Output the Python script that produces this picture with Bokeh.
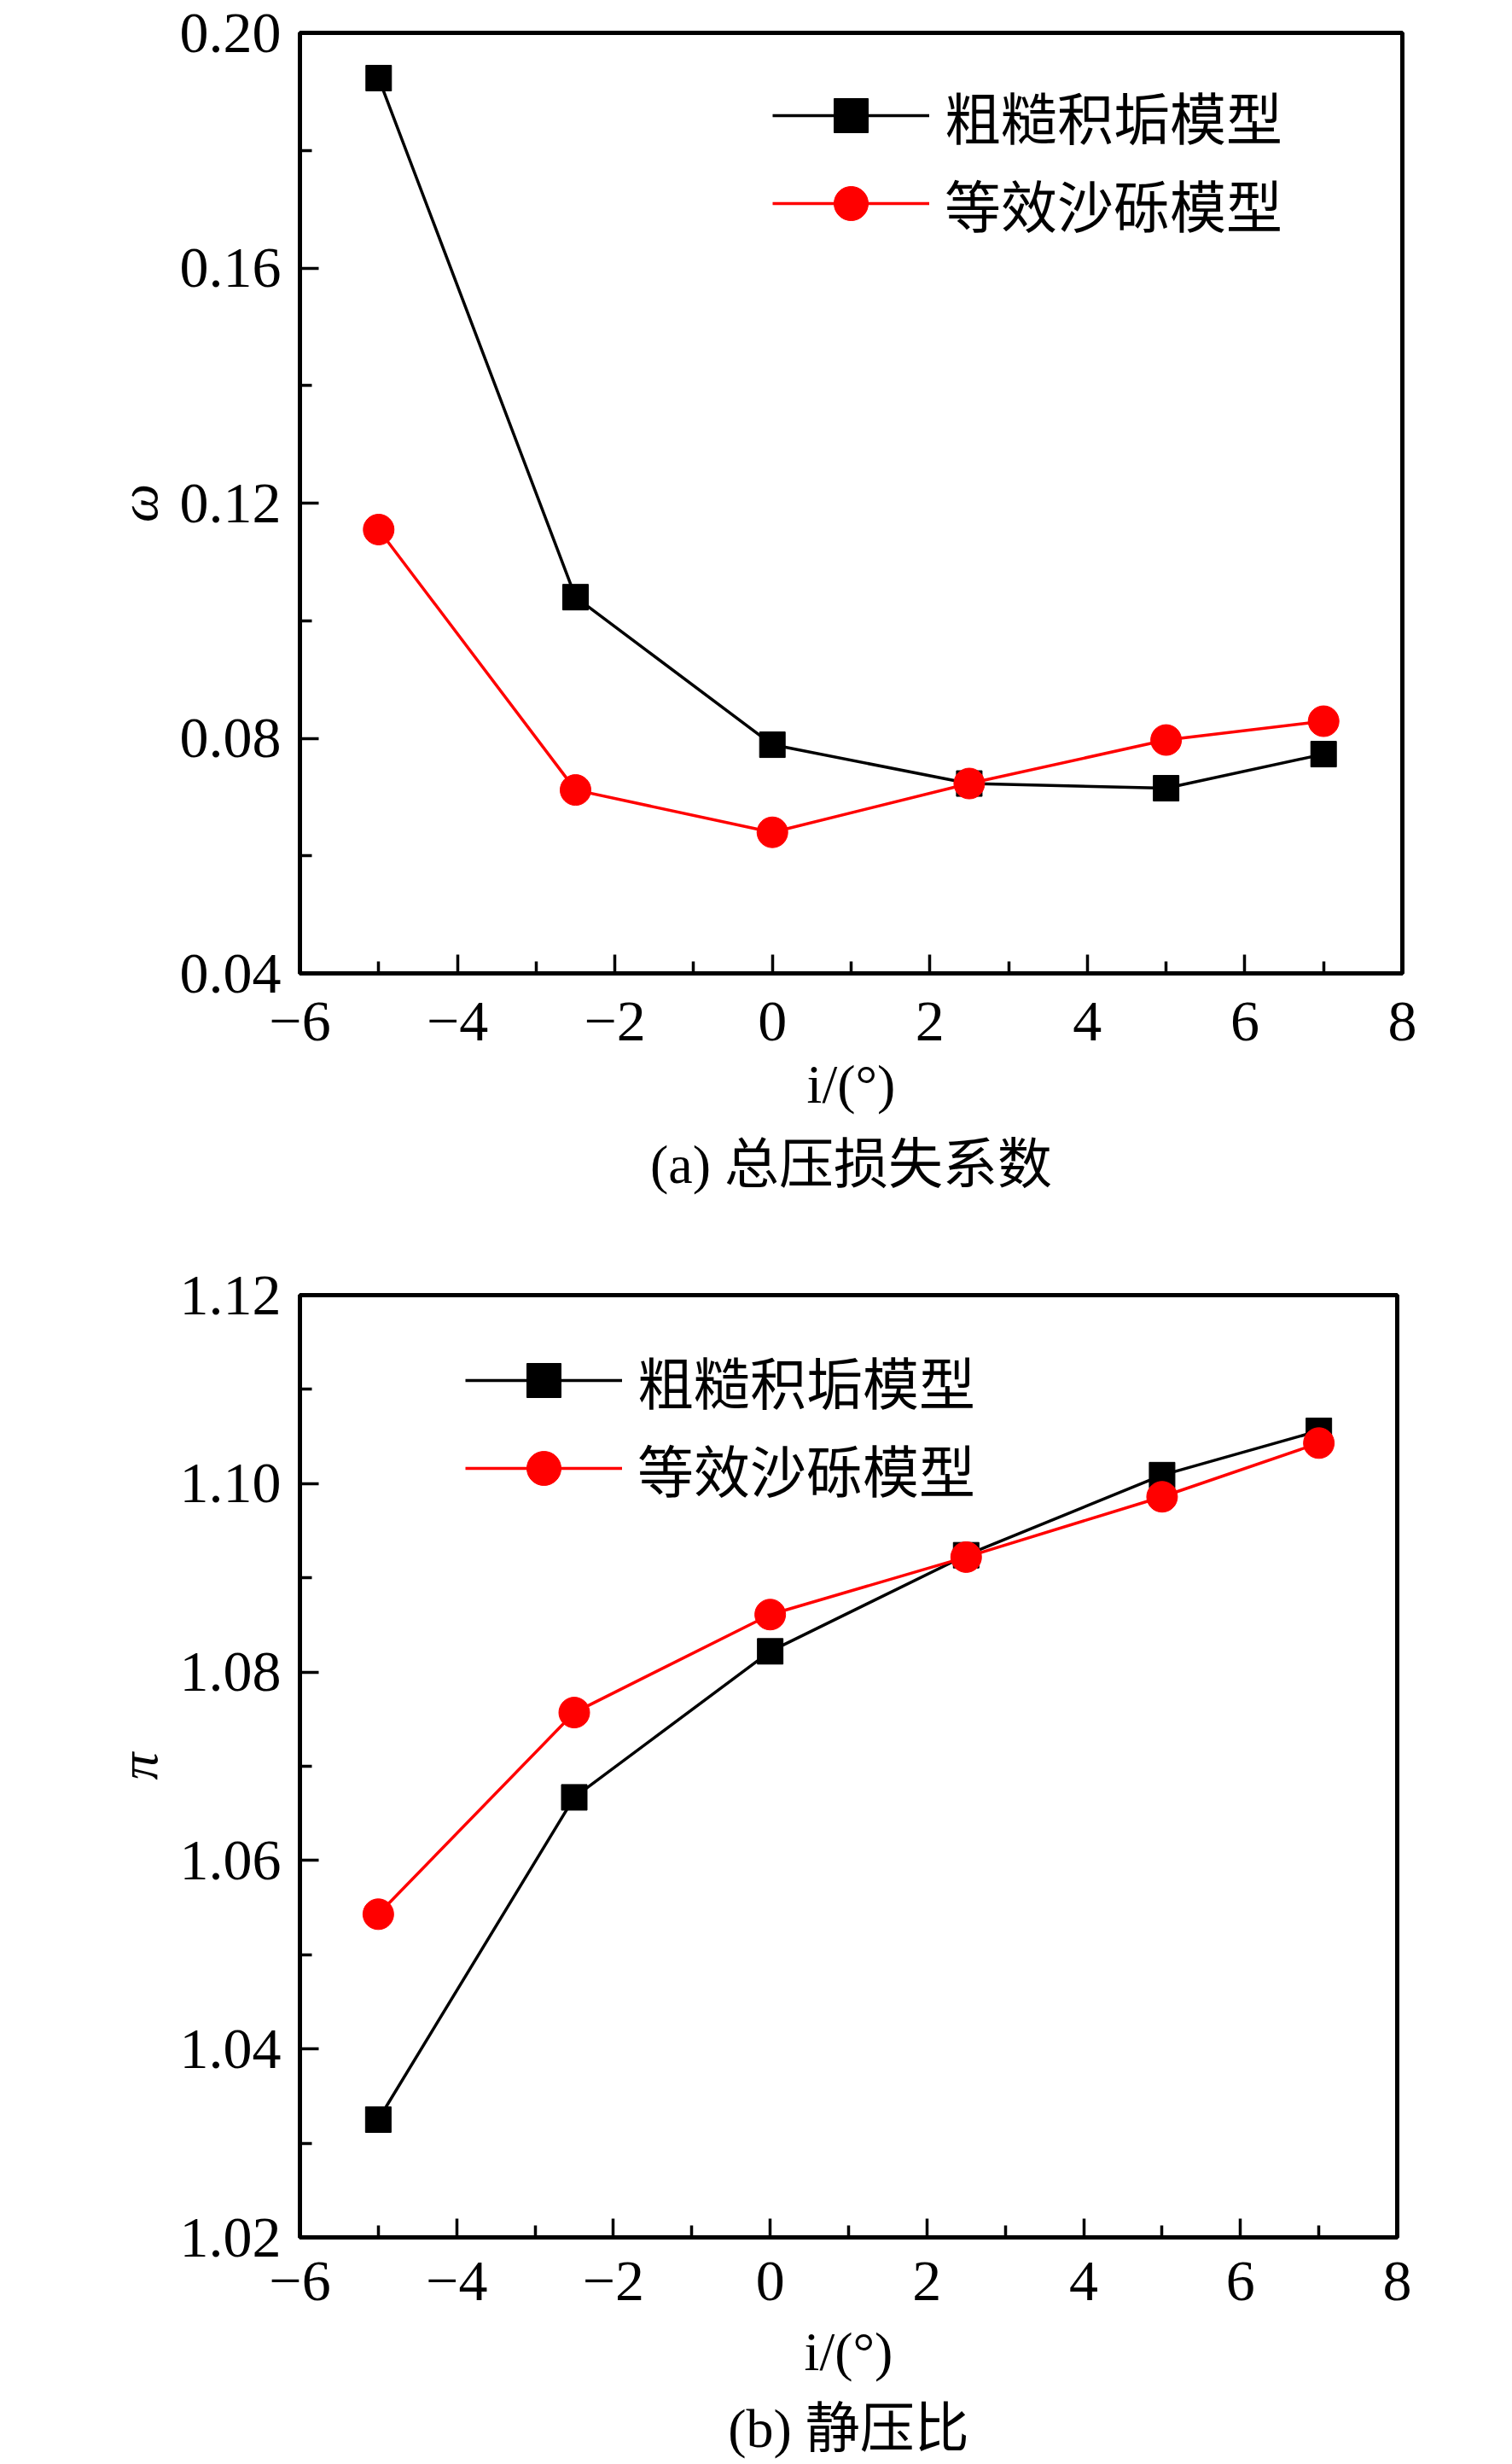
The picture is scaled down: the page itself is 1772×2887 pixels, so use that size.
from bokeh.plotting import figure
from bokeh.layouts import column
from bokeh.models import FixedTicker, Legend, LegendItem, Title, Range1d, NumeralTickFormatter
from bokeh.embed import file_html
from bokeh.resources import INLINE

# ---------------- data ----------------
incidence = [-5, -2.5, 0, 2.5, 5, 7]
omega_rough = [0.1923, 0.1040, 0.0789, 0.0723, 0.0715, 0.0773]
omega_sand = [0.1155, 0.0712, 0.0640, 0.0723, 0.0797, 0.0829]
pi_rough = [1.0325, 1.0667, 1.0822, 1.0924, 1.1009, 1.1056]
pi_sand = [1.0543, 1.0757, 1.0861, 1.0922, 1.0986, 1.1043]
series_names = ["粗糙积垢模型", "等效沙砾模型"]
x_ticks = [-6, -4, -2, 0, 2, 4, 6, 8]
x_tick_labels = ["−6", "−4", "−2", "0", "2", "4", "6", "8"]
x_minor = [-5, -3, -1, 1, 3, 5, 7]
omega_ticks = [0.04, 0.08, 0.12, 0.16, 0.20]
omega_minor = [0.06, 0.10, 0.14, 0.18]
pi_ticks = [1.02, 1.04, 1.06, 1.08, 1.10, 1.12]
pi_minor = [1.03, 1.05, 1.07, 1.09, 1.11]
captions = ["(a) 总压损失系数", "(b) 静压比"]
y_labels = ["ω", "π"]
x_label = "i/(°)"

SERIF = "Liberation Serif, Noto Sans CJK SC"
CJK = "Noto Sans CJK SC"


def make_panel(y_rough, y_sand, yr, yticks, yminor, ylabel, caption,
               fw, fh, b_top, b_bottom, b_right, leg_xy,
               tick_standoff, xlabel_standoff, cap_standoff):
    p = figure(frame_width=fw, frame_height=fh, output_backend="svg",
               toolbar_location=None, x_range=Range1d(-6, 8),
               y_range=Range1d(*yr),
               min_border_left=351, min_border_right=b_right,
               min_border_top=b_top, min_border_bottom=b_bottom,
               background_fill_color="white", border_fill_color="white")
    p.grid.visible = False
    p.outline_line_color = "black"
    p.outline_line_width = 5

    r1l = p.line(incidence, y_rough, line_color="black", line_width=3.5)
    r1s = p.scatter(incidence, y_rough, marker="square", size=30,
                    fill_color="black", line_color="black")
    r2l = p.line(incidence, y_sand, line_color="#ff0000", line_width=3.5)
    r2s = p.scatter(incidence, y_sand, marker="circle", size=36,
                    fill_color="#ff0000", line_color="#ff0000")

    xa = p.xaxis[0]
    xa.ticker = FixedTicker(ticks=x_ticks, minor_ticks=x_minor)
    xa.major_label_overrides = dict(zip(x_ticks, x_tick_labels))
    ya = p.yaxis[0]
    ya.ticker = FixedTicker(ticks=yticks, minor_ticks=yminor)
    ya.formatter = NumeralTickFormatter(format="0.00")

    for ax in (xa, ya):
        ax.axis_line_width = 5
        ax.axis_line_color = "black"
        ax.major_tick_in = 22
        ax.major_tick_out = 0
        ax.minor_tick_in = 14
        ax.minor_tick_out = 0
        ax.major_tick_line_width = 3.5
        ax.minor_tick_line_width = 3.5
        ax.major_label_text_font = SERIF
        ax.major_label_text_font_size = "68px"
        ax.major_label_text_color = "black"
        ax.axis_label_text_font = SERIF
        ax.axis_label_text_font_size = "64px"
        ax.axis_label_text_color = "black"
    xa.major_label_standoff = tick_standoff
    ya.major_label_standoff = 22
    xa.axis_label = x_label
    xa.axis_label_text_font_style = "normal"
    xa.axis_label_standoff = xlabel_standoff
    ya.axis_label = ylabel
    ya.axis_label_text_font_style = "italic"
    ya.axis_label_standoff = 10

    legend = Legend(items=[LegendItem(label=series_names[0], renderers=[r1l, r1s]),
                           LegendItem(label=series_names[1], renderers=[r2l, r2s])],
                    location=leg_xy, orientation="vertical",
                    glyph_width=184, glyph_height=100, label_height=100,
                    label_standoff=18, spacing=3, padding=0, margin=0,
                    border_line_color=None, background_fill_alpha=0,
                    label_text_font=CJK, label_text_font_size="66px",
                    label_text_color="black")
    p.add_layout(legend)

    p.add_layout(Title(text=caption, align="center", text_font=SERIF,
                       text_font_size="64px", text_font_style="normal",
                       text_color="black", standoff=cap_standoff), "below")
    return p


p1 = make_panel(omega_rough, omega_sand, (0.04, 0.20), omega_ticks, omega_minor,
                y_labels[0], captions[0], 1292, 1102, 38, 298, 121, (554, 852),
                34, 13, 37)
p2 = make_panel(pi_rough, pi_sand, (1.02, 1.12), pi_ticks, pi_minor,
                y_labels[1], captions[1], 1286, 1104, 79, 262, 127, (194, 851),
                29, 22, 29)

page = column(p1, p2, spacing=0)
open("out.html", "w").write(file_html(page, INLINE))
